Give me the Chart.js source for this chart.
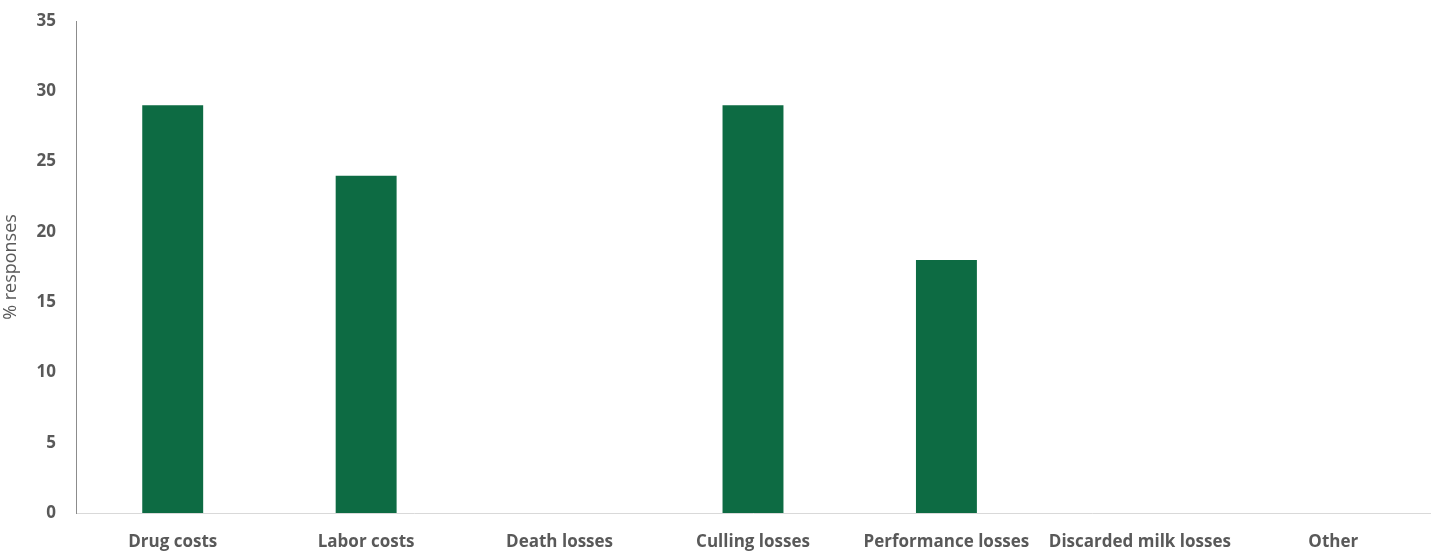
<!DOCTYPE html>
<html>
<head>
<meta charset="utf-8">
<script src="https://cdn.jsdelivr.net/npm/chart.js@4/dist/chart.umd.min.js"></script>
<style>
  html, body { margin: 0; padding: 0; background: #fff; }
  #wrap { width: 1439px; height: 552px; }
</style>
</head>
<body>
<div id="wrap"><canvas id="costChart" width="1439" height="552"></canvas></div>
<script>
const categories = ["Drug costs", "Labor costs", "Death losses", "Culling losses", "Performance losses", "Discarded milk losses", "Other"];
const responses = [29, 24, 0, 29, 18, 0, 0];
const yTicks = [0, 5, 10, 15, 20, 25, 30, 35];

const labelFont = { family: "'Open Sans', 'Liberation Sans', sans-serif", size: 17, weight: "bold" };

new Chart(document.getElementById("costChart"), {
  type: "bar",
  data: {
    labels: categories,
    datasets: [{
      data: responses,
      backgroundColor: "#0d6b43",
      barPercentage: 0.315,
      categoryPercentage: 1
    }]
  },
  options: {
    responsive: false,
    animation: false,
    layout: { padding: { top: 21, right: 9, left: 0, bottom: 0 } },
    plugins: { legend: { display: false }, tooltip: { enabled: false } },
    scales: {
      x: {
        grid: { display: false, drawTicks: false },
        border: { color: "#d9d9d9", width: 1 },
        ticks: { color: "#595959", font: labelFont, padding: 19, maxRotation: 0, autoSkip: false },
        afterFit: s => { s.height = 39; s.paddingLeft = 0; s.paddingRight = 0; }
      },
      y: {
        min: 0,
        max: 35,
        afterBuildTicks: s => { s.ticks = yTicks.map(v => ({ value: v })); },
        grid: { display: false, drawTicks: false },
        border: { color: "#8c8c8c", width: 1 },
        ticks: { color: "#595959", font: labelFont, padding: 20 },
        title: {
          display: true,
          text: "% responses",
          color: "#595959",
          font: { family: "'Open Sans', 'Liberation Sans', sans-serif", size: 18 },
          padding: 0
        },
        afterFit: s => { s.width = 76; s.paddingTop = 0; s.paddingBottom = 0; }
      }
    }
  }
});
</script>
</body>
</html>
